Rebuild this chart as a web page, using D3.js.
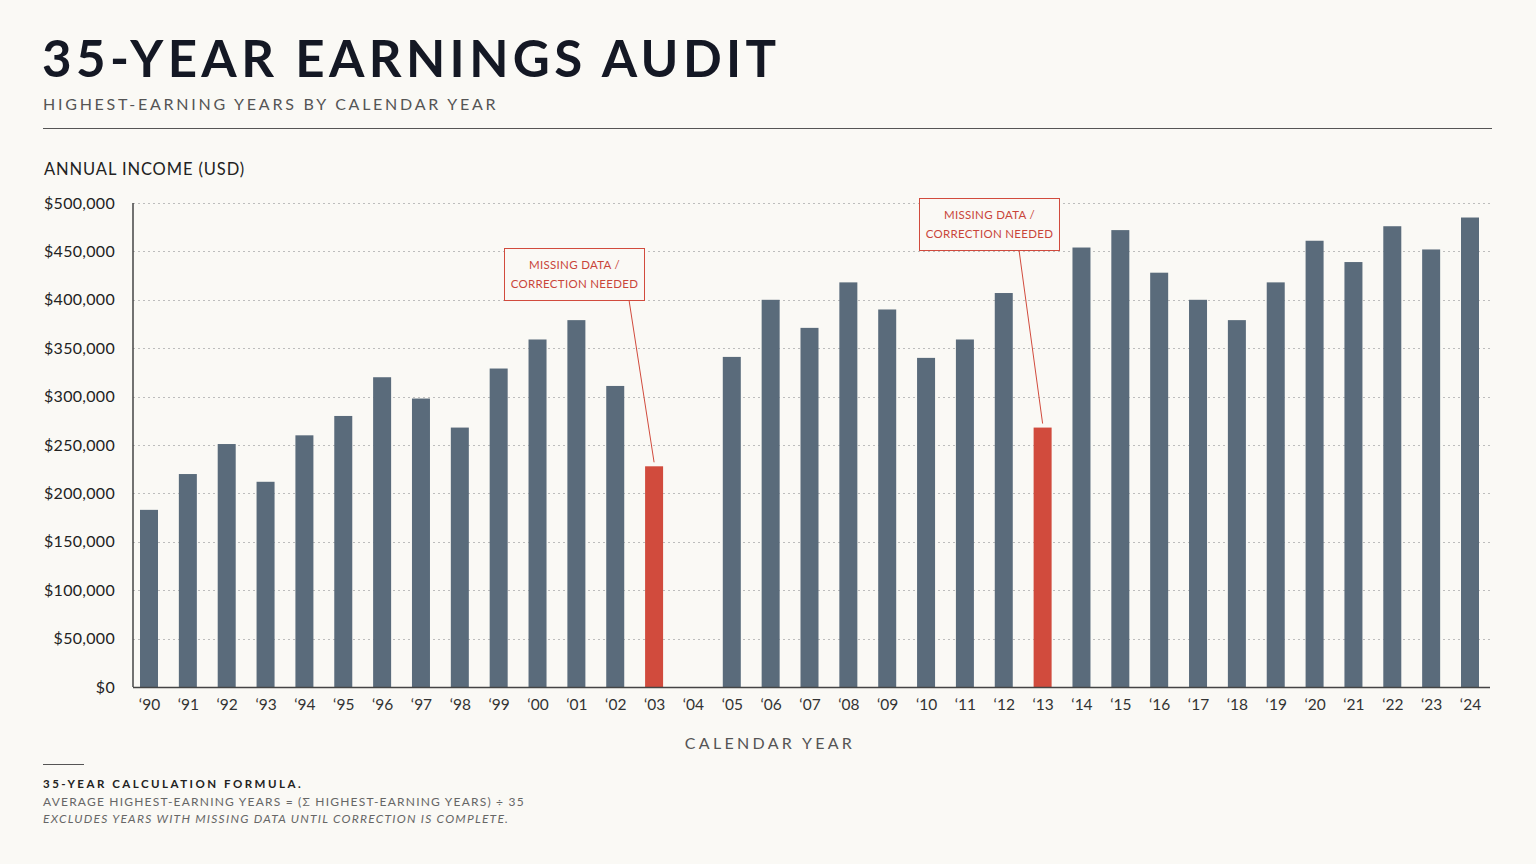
<!DOCTYPE html>
<html>
<head>
<meta charset="utf-8">
<script src="https://cdn.jsdelivr.net/npm/d3@7"></script>
<style>
  html, body { margin: 0; padding: 0; background: #FAF9F5; }
  svg { display: block; }
  text { font-family: Lato, "Noto Sans", sans-serif; }
</style>
</head>
<body>
<svg id="chart" width="1536" height="864"></svg>
<script>
const years = d3.range(1990, 2025);
const yearLabels = years.map(y => "\u2018" + String(y % 100).padStart(2, "0"));
const income = [183000, 220000, 251000, 212000, 260000, 280000, 320000, 298000, 268000, 329000,
                359000, 379000, 311000, 228000, null, 341000, 400000, 371000, 418000, 390000,
                340000, 359000, 407000, 268000, 454000, 472000, 428000, 400000, 379000, 418000,
                461000, 439000, 476000, 452000, 485000];
const flaggedYears = [2003, 2013];
const yTicks = [0, 50000, 100000, 150000, 200000, 250000, 300000, 350000, 400000, 450000, 500000];
const annotationText = ["MISSING DATA /", "CORRECTION NEEDED"];

const svg = d3.select("#chart");
svg.append("rect").attr("width", 1536).attr("height", 864).attr("fill", "#FAF9F5");

// Title block
svg.append("text").attr("x", 42).attr("y", 77)
  .attr("font-size", 51).attr("font-weight", 700).attr("letter-spacing", 4.4)
  .attr("fill", "#141824").text("35-YEAR EARNINGS AUDIT");
svg.append("text").attr("x", 43).attr("y", 110)
  .attr("font-size", 16).attr("letter-spacing", 2.75)
  .attr("fill", "#555").text("HIGHEST-EARNING YEARS BY CALENDAR YEAR");
svg.append("line").attr("x1", 43).attr("x2", 1492).attr("y1", 128.5).attr("y2", 128.5)
  .attr("stroke", "#555").attr("stroke-width", 1.2);

svg.append("text").attr("x", 44).attr("y", 175)
  .attr("font-size", 16.5).attr("letter-spacing", 0.9)
  .attr("fill", "#222").text("ANNUAL INCOME (USD)");

// Scales
const plotLeft = 133, plotRight = 1490, plotTop = 203, plotBottom = 687;
const x = d3.scalePoint().domain(years).range([149, 1470]);
const y = d3.scaleLinear().domain([0, 500000]).range([plotBottom, plotTop]);
const barW = 18;

// Grid
svg.append("g").selectAll("line").data(yTicks.filter(d => d > 0)).join("line")
  .attr("x1", plotLeft).attr("x2", plotRight)
  .attr("y1", d => Math.round(y(d)) + 0.5).attr("y2", d => Math.round(y(d)) + 0.5)
  .attr("stroke", "#BDBDBD").attr("stroke-width", 1).attr("stroke-dasharray", "2,3");

// Y axis
const yAxis = d3.axisLeft(y).tickValues(yTicks).tickSize(0).tickPadding(18)
  .tickFormat(d => "$" + d3.format(",")(d));
const gy = svg.append("g").attr("transform", `translate(${plotLeft},0)`).call(yAxis);
gy.select(".domain").remove();
gy.selectAll("text").attr("font-size", 16).attr("fill", "#222").attr("letter-spacing", 0.3)
  .attr("font-family", "Lato, 'Noto Sans', sans-serif");

// Bars
const data = years.map((yr, i) => ({ yr, v: income[i], label: yearLabels[i] }));
svg.append("g").selectAll("rect").data(data.filter(d => d.v != null)).join("rect")
  .attr("x", d => x(d.yr) - barW / 2)
  .attr("y", d => y(d.v))
  .attr("width", barW)
  .attr("height", d => y(0) - y(d.v))
  .attr("fill", d => flaggedYears.includes(d.yr) ? "#D14B3D" : "#5A6B7B");

// Axis lines
svg.append("line").attr("x1", plotLeft).attr("x2", plotLeft).attr("y1", plotTop).attr("y2", plotBottom)
  .attr("stroke", "#444").attr("stroke-width", 1.5);
svg.append("line").attr("x1", plotLeft).attr("x2", plotRight).attr("y1", plotBottom + 0.5).attr("y2", plotBottom + 0.5)
  .attr("stroke", "#444").attr("stroke-width", 1.5);

// X axis labels
const xAxis = d3.axisBottom(x).tickSize(0).tickPadding(12)
  .tickFormat((d, i) => yearLabels[i]);
const gx = svg.append("g").attr("transform", `translate(0,${plotBottom})`).call(xAxis);
gx.select(".domain").remove();
gx.selectAll("text").attr("font-size", 15.5).attr("fill", "#333")
  .attr("font-family", "Lato, 'Noto Sans', sans-serif");

svg.append("text").attr("x", 770).attr("y", 749).attr("text-anchor", "middle")
  .attr("font-size", 16).attr("letter-spacing", 3.3).attr("fill", "#555")
  .text("CALENDAR YEAR");

// Annotations
const annos = [
  { yr: 2003, bx: 504, by: 248, anchorX: 629 },
  { yr: 2013, bx: 919, by: 198, anchorX: 1019 }
];
const bw = 140, bh = 52;
annos.forEach(a => {
  const d = data.find(e => e.yr === a.yr);
  svg.append("line").attr("x1", a.anchorX).attr("y1", a.by + bh)
    .attr("x2", x(a.yr)).attr("y2", y(d.v) - 4)
    .attr("stroke", "#D14B3D").attr("stroke-width", 1);
  svg.append("rect").attr("x", a.bx + 0.5).attr("y", a.by + 0.5).attr("width", bw).attr("height", bh)
    .attr("fill", "#FAF9F5").attr("stroke", "#D14B3D").attr("stroke-width", 1);
  annotationText.forEach((t, i) => {
    svg.append("text").attr("x", a.bx + bw / 2 + 0.5).attr("y", a.by + 21 + i * 19)
      .attr("text-anchor", "middle").attr("font-size", 11.5).attr("letter-spacing", 0.3)
      .attr("fill", "#C9453A").text(t);
  });
});

// Footer
svg.append("line").attr("x1", 43).attr("x2", 84).attr("y1", 764.5).attr("y2", 764.5)
  .attr("stroke", "#555").attr("stroke-width", 1);
svg.append("text").attr("x", 43).attr("y", 788)
  .attr("font-size", 11.5).attr("font-weight", 700).attr("letter-spacing", 2.5)
  .attr("fill", "#222").text("35-YEAR CALCULATION FORMULA.");
svg.append("text").attr("x", 43).attr("y", 806)
  .attr("font-size", 12).attr("letter-spacing", 1.2)
  .attr("fill", "#666").text("AVERAGE HIGHEST-EARNING YEARS = (\u03A3 HIGHEST-EARNING YEARS) \u00F7 35");
svg.append("text").attr("x", 43).attr("y", 823)
  .attr("font-size", 12).attr("letter-spacing", 1.25).attr("font-style", "italic")
  .attr("fill", "#666").text("EXCLUDES YEARS WITH MISSING DATA UNTIL CORRECTION IS COMPLETE.");
</script>
</body>
</html>
